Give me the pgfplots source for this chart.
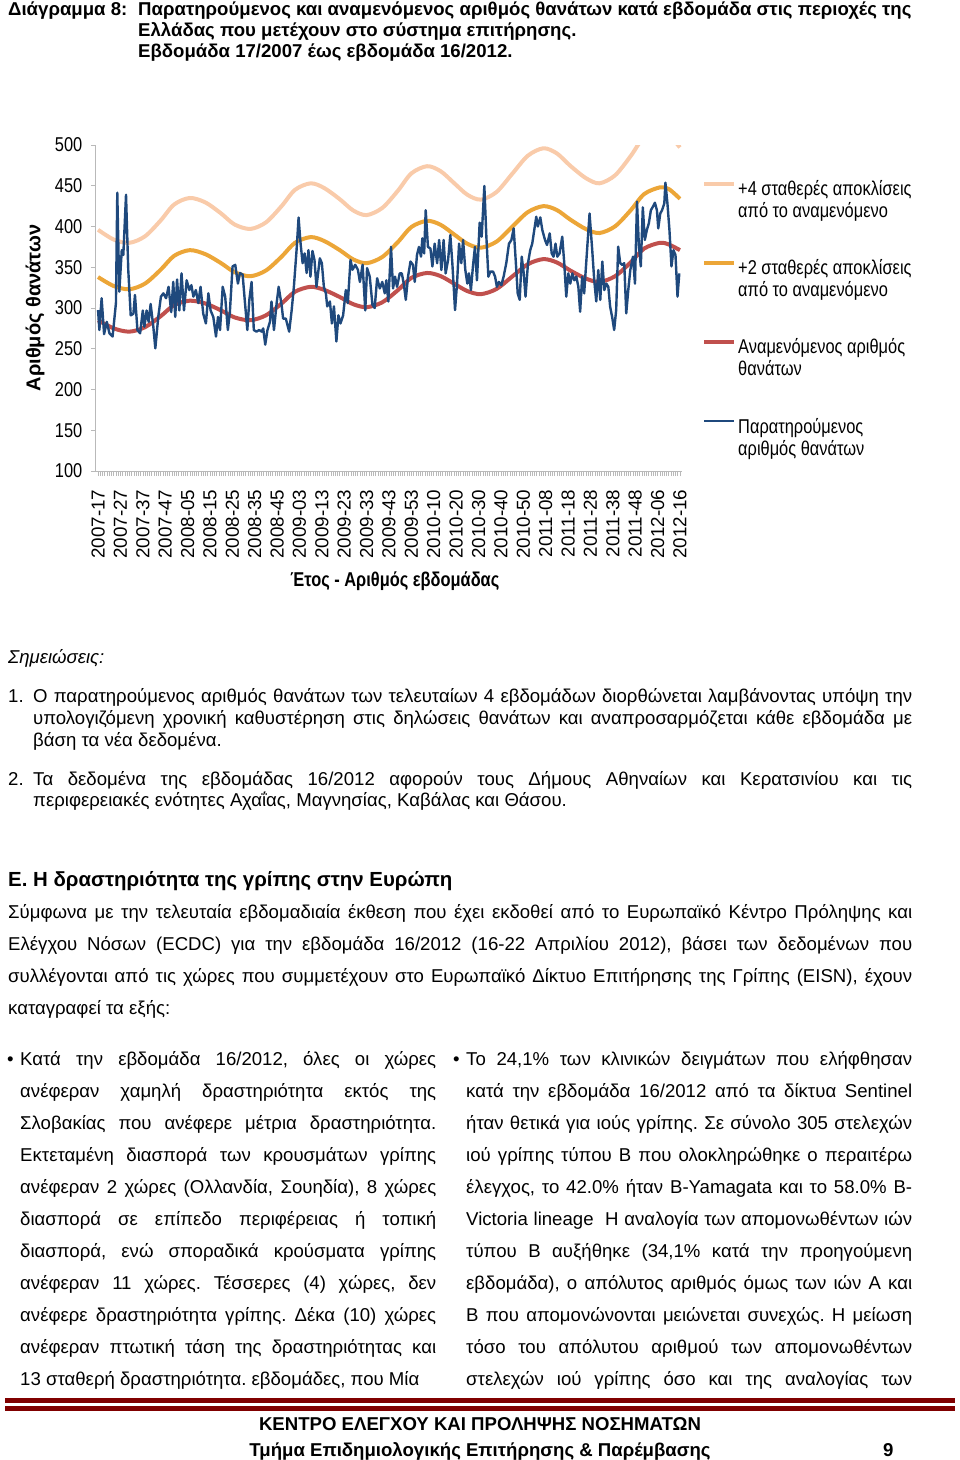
\documentclass[border=0pt]{standalone}
\usepackage{fontspec}
\setmainfont{Liberation Sans}
\newfontfamily\narrow{Liberation Sans}[FakeStretch=0.82]
\usepackage{pgfplots}
\pgfplotsset{compat=1.18}
\usepackage{pgfplotstable}
\definecolor{cblue}{RGB}{31,73,125}
\definecolor{cred}{RGB}{192,80,77}
\definecolor{corange}{RGB}{236,166,56}
\definecolor{cpeach}{RGB}{249,203,170}
\definecolor{cmaroon}{RGB}{128,0,0}
\pgfplotstableread{
x y
0 297.5
0.6 273
1.6 312
2.7 268
3.9 283
5.1 269
6.5 265
8.0 306
8.6 441.5
9.5 320
10.6 371
11.3 365
12.5 439
13.5 347
14.6 291
15.8 293
16.5 316
17.6 273
18.8 269
20.0 297
20.7 277
21.7 297
22.6 283
23.5 305
24.7 277
25.6 250.5
26.9 289
28.1 314
29.2 318
30.4 312
31.5 326
32.7 295
33.6 332
34.5 289
35.3 335
36.3 297
37.3 342.5
38.4 297
39.6 334
40.8 322
41.7 328
42.6 314
43.7 322
44.8 306
45.8 326
47.0 293
48.2 281
49.3 318
50.3 297
51.5 289
52.7 265
53.6 289
54.5 273
55.7 326
56.8 314
58.0 273
58.9 295
60.1 351
61.3 353
62.5 330
63.4 343
64.6 341
65.6 308
66.7 273
67.6 310
68.6 332
69.6 273
70.8 271
72.0 273
73.1 271
73.8 275
74.7 255
75.7 273
76.8 283
77.5 308
78.6 273
79.8 306
80.7 326
82.0 304
82.7 287
83.9 287
85.4 271
86.5 297
87.5 326
88.7 371
89.6 411
90.5 379
91.4 355
92.3 367
93.2 343
94.0 371
94.9 338.5
95.8 370
96.7 359
97.6 326
98.5 347
99.1 361
100.0 355
100.9 326
101.8 318
102.4 302
103.6 308
104.5 281
105.4 302
106.5 259
107.4 291
108.3 281
109.5 291
110.7 322
111.6 306
112.8 359
113.7 347
114.9 353
116.1 347
117.0 332
118.2 353
119.4 297
120.2 349
121.4 338.5
122.6 304
123.6 300
124.7 336.5
125.9 324
127.0 332
128.1 318
128.8 334
129.7 308
130.9 375
131.8 324
132.7 338.5
133.6 326
134.8 342.5
135.7 342.5
136.6 330
137.5 310
138.5 338.5
139.6 357
140.7 353
141.5 332
142.5 365
143.4 375
144.3 363
144.9 385.5
145.7 367
146.4 420
147.4 375
148.5 373
149.4 351
150.4 379
151.5 355
152.4 383.5
153.4 346.6
154.4 383.5
155.3 342.5
156.4 359
157.4 389.6
158.3 355
159.5 297.5
160.4 330
161.3 379
162.3 355
163.1 383.5
164.1 346.6
165.0 330
165.7 342.5
166.6 322
167.5 351
168.4 375
169.3 334
170.5 404.7
171.4 387.5
172.6 449.7
173.5 387.5
174.4 338.5
175.3 344.6
176.5 344.6
177.4 338.5
178.2 326
179.1 332
180.2 328
181.2 338.5
182.4 355
183.6 379
184.7 383.5
185.7 397.7
186.6 359
187.5 318
188.4 310
189.3 363
190.2 342.5
191.0 314
192.1 355
193.1 371
194.0 379
194.9 395.7
195.8 412
196.5 400
197.6 411.2
198.5 395.7
199.7 383.5
200.6 377.3
201.8 391.6
202.7 367
203.5 363
204.4 379
205.2 363
206.2 367
207.4 387.5
208.3 355
209.2 314
210.1 342.5
211.0 330
211.9 342.5
212.8 334
213.7 338.5
214.6 326
215.4 295.5
216.3 338.5
217.2 318
218.1 355
219.6 416
220.8 371
221.7 334
222.6 308
223.5 346.6
224.4 310
225.3 357
226.2 322
227.1 330
228.0 326
228.8 301.6
229.7 289
230.6 273
231.5 297.5
232.4 375.3
233.3 355
234.2 353
235.1 355
236.0 293.5
236.9 322
237.8 346.6
239.0 363
239.9 330
240.8 430.5
241.6 379
242.5 351
243.4 423.5
244.3 383.5
245.2 395.7
246.1 404
247.0 420
247.9 424.3
248.8 429.2
249.7 420
250.3 397.7
251.2 416
252.0 420
253.0 428.4
253.5 453.8
254.4 428.4
255.3 395.7
256.2 351
257.1 371
258.0 365
258.9 314
259.7 342.5
}\observed
\pgfplotstableread{
x red orange peach
0 285 338 396
7 275 327 384
14 271 323 380
21 276.5 330 388
28 290 347 407.5
34 303.5 364 427
41 309 371 435
48 305.5 366 429.5
55 297 355 416
61 288.5 344 402.5
68 285 339 397
75 291 346 405
82 305.5 363 425
88 320 380 445
95 326 387 453
101 322.3 382.3 447.3
108 313.5 371 433.5
114 304.7 359.7 419.7
120 301 355 414
127 307 362.6 422.8
134 322 381 444
140 337 399.4 465.2
147 343 407 474
153 339.2 402.2 468
159 330 390.5 453.5
165 320.8 378.8 439
171 317 374 433
178 323.3 381.4 442.2
185 338.5 399.5 464.5
192 353.7 417.6 486.8
199 360 425 496
205 355.9 420.2 489.7
211 346 408.5 474.5
218 336.1 396.8 459.3
224 332 392 453
231 339 400.2 462.8
238 356 420 486.5
244 373 439.8 510.2
251 380 448 520
255 378 446 513
260 371 434 497
}\expected
\newcommand{\tl}[3]{\node[anchor=base west,inner sep=0pt] at (#1,#2) {#3};}
\newcommand{\jl}[4]{\node[anchor=base west,inner sep=0pt] at (#1,#2) {\makebox[#3pt][s]{#4}};}
\begin{document}
\frenchspacing
\begin{tikzpicture}[x=1pt,y=-1pt]
\path (0,0) rectangle (960,1460);
\begin{axis}[
 at={(95.8pt,-471pt)}, anchor=south west,
 width=586.4pt, height=326pt, scale only axis,
 xmin=-1, xmax=261, ymin=100, ymax=500,
 axis lines*=left,
 axis line style={draw=gray!55, line width=0.8pt},
 ytick={100,150,...,500},
 xtick={0,10,...,260},
 xticklabels={2007-17,2007-27,2007-37,2007-47,2008-05,2008-15,2008-25,2008-35,2008-45,2009-03,2009-13,2009-23,2009-33,2009-43,2009-53,2010-10,2010-20,2010-30,2010-40,2010-50,2011-08,2011-18,2011-28,2011-38,2011-48,2012-06,2012-16},
 minor xtick={0,...,260},
 tick align=outside,
 major tick length=5pt, minor tick length=5pt,
 tick style={draw=gray!55, line width=0.6pt},
 xticklabel style={rotate=90, anchor=east, font=\fontsize{18.8}{20}\selectfont, xshift=-10pt},
 yticklabel style={font=\narrow\fontsize{20}{22}\selectfont, xshift=-5pt},
 /pgf/number format/assume math mode=true,
 xlabel={Έτος - Αριθμός εβδομάδας},
 xlabel style={font=\narrow\bfseries\fontsize{20}{22}\selectfont, at={(axis description cs:0.51,-0.337)}, anchor=center},
 ylabel={Αριθμός θανάτων},
 ylabel style={font=\bfseries\fontsize{20}{22}\selectfont, at={(axis description cs:-0.1037,0.5)}, anchor=center},
 legend style={at={(axis description cs:1.0338,0.8988)}, anchor=north west, draw=none, fill=none, inner sep=0pt, row sep=46.5pt, column sep=0pt, font=\narrow\fontsize{20}{22}\selectfont},
 legend cell align=left,
 legend image code/.code={\draw[#1] (0pt,11pt) -- (30pt,11pt);},
]
\addplot[cpeach, line width=4pt, smooth] table[x=x,y=peach]{\expected};
\addlegendentry{\begin{tabular}{@{}l@{}}+4 σταθερές αποκλίσεις\\από το αναμενόμενο\end{tabular}}
\addplot[corange, line width=4pt, smooth] table[x=x,y=orange]{\expected};
\addlegendentry{\begin{tabular}{@{}l@{}}+2 σταθερές αποκλίσεις\\από το αναμενόμενο\end{tabular}}
\addplot[cred, line width=4pt, smooth] table[x=x,y=red]{\expected};
\addlegendentry{\begin{tabular}{@{}l@{}}Αναμενόμενος αριθμός\\θανάτων\end{tabular}}
\addplot[cblue, line width=2.4pt, line join=round] table[x=x,y=y]{\observed};
\addlegendentry{\begin{tabular}{@{}l@{}}Παρατηρούμενος\\αριθμός θανάτων\end{tabular}}
\end{axis}
% title
\begin{scope}[font=\bfseries\fontsize{18.6}{21}\selectfont]
\tl{8}{15}{Διάγραμμα 8:}
\tl{138}{15}{Παρατηρούμενος και αναμενόμενος αριθμός θανάτων κατά εβδομάδα στις περιοχές της}
\tl{138}{36}{Ελλάδας που μετέχουν στο σύστημα επιτήρησης.}
\tl{138}{57}{Εβδομάδα 17/2007 έως εβδομάδα 16/2012.}
\end{scope}
% notes
\begin{scope}[font=\fontsize{18.6}{21}\selectfont]
\tl{8}{663}{\itshape Σημειώσεις:}
\tl{8}{702}{1.}
\jl{33}{702}{879}{Ο παρατηρούμενος αριθμός θανάτων των τελευταίων 4 εβδομάδων διορθώνεται λαμβάνοντας υπόψη την}
\jl{33}{724}{879}{υπολογιζόμενη χρονική καθυστέρηση στις δηλώσεις θανάτων και αναπροσαρμόζεται κάθε εβδομάδα με}
\tl{33}{746}{βάση τα νέα δεδομένα.}
\tl{8}{785}{2.}
\jl{33}{785}{879}{Τα δεδομένα της εβδομάδας 16/2012 αφορούν τους Δήμους Αθηναίων και Κερατσινίου και τις}
\tl{33}{806}{περιφερειακές ενότητες Αχαΐας, Μαγνησίας, Καβάλας και Θάσου.}
\end{scope}
\tl{8}{886}{\bfseries\fontsize{20.4}{23}\selectfont Ε. Η δραστηριότητα της γρίπης στην Ευρώπη}
\begin{scope}[font=\fontsize{18.6}{21}\selectfont]
\jl{8}{918}{904}{Σύμφωνα με την τελευταία εβδομαδιαία έκθεση που έχει εκδοθεί από το Ευρωπαϊκό Κέντρο Πρόληψης και}
\jl{8}{950}{904}{Ελέγχου Νόσων (ECDC) για την εβδομάδα 16/2012 (16-22 Απριλίου 2012), βάσει των δεδομένων που}
\jl{8}{982}{904}{συλλέγονται από τις χώρες που συμμετέχουν στο Ευρωπαϊκό Δίκτυο Επιτήρησης της Γρίπης (EISN), έχουν}
\tl{8}{1014}{καταγραφεί τα εξής:}
% left column
\tl{7}{1065}{\textbullet}
\jl{20}{1065}{416}{Κατά την εβδομάδα 16/2012, όλες οι χώρες}
\jl{20}{1097}{416}{ανέφεραν χαμηλή δραστηριότητα εκτός της}
\jl{20}{1129}{416}{Σλοβακίας που ανέφερε μέτρια δραστηριότητα.}
\jl{20}{1161}{416}{Εκτεταμένη διασπορά των κρουσμάτων γρίπης}
\jl{20}{1193}{416}{ανέφεραν 2 χώρες (Ολλανδία, Σουηδία), 8 χώρες}
\jl{20}{1225}{416}{διασπορά σε επίπεδο περιφέρειας ή τοπική}
\jl{20}{1257}{416}{διασπορά, ενώ σποραδικά κρούσματα γρίπης}
\jl{20}{1289}{416}{ανέφεραν 11 χώρες. Τέσσερες (4) χώρες, δεν}
\jl{20}{1321}{416}{ανέφερε δραστηριότητα γρίπης. Δέκα (10) χώρες}
\jl{20}{1353}{416}{ανέφεραν πτωτική τάση της δραστηριότητας και}
\tl{20}{1385}{13 σταθερή δραστηριότητα. εβδομάδες, που Μία}
% right column
\tl{453}{1065}{\textbullet}
\jl{466}{1065}{446}{Το 24,1\% των κλινικών δειγμάτων που ελήφθησαν}
\jl{466}{1097}{446}{κατά την εβδομάδα 16/2012 από τα δίκτυα Sentinel}
\jl{466}{1129}{446}{ήταν θετικά για ιούς γρίπης. Σε σύνολο 305 στελεχών}
\jl{466}{1161}{446}{ιού γρίπης τύπου Β που ολοκληρώθηκε ο περαιτέρω}
\jl{466}{1193}{446}{έλεγχος, το 42.0\% ήταν B-Yamagata και το 58.0\% B-}
\jl{466}{1225}{446}{Victoria lineage \ Η αναλογία των απομονωθέντων ιών}
\jl{466}{1257}{446}{τύπου Β αυξήθηκε (34,1\% κατά την προηγούμενη}
\jl{466}{1289}{446}{εβδομάδα), ο απόλυτος αριθμός όμως των ιών Α και}
\jl{466}{1321}{446}{Β που απομονώνονται μειώνεται συνεχώς. Η μείωση}
\jl{466}{1353}{446}{τόσο του απόλυτου αριθμού των απομονωθέντων}
\jl{466}{1385}{446}{στελεχών ιού γρίπης όσο και της αναλογίας των}
\end{scope}
% footer
\fill[cmaroon] (5,1398) rectangle (955,1403);
\fill[cmaroon] (5,1406) rectangle (955,1411);
\begin{scope}[font=\bfseries\fontsize{18.6}{21}\selectfont]
\node[anchor=base,inner sep=0pt] at (480,1430) {ΚΕΝΤΡΟ ΕΛΕΓΧΟΥ ΚΑΙ ΠΡΟΛΗΨΗΣ ΝΟΣΗΜΑΤΩΝ};
\node[anchor=base,inner sep=0pt] at (480,1456) {Τμήμα Επιδημιολογικής Επιτήρησης \& Παρέμβασης};
\tl{883}{1456}{9}
\end{scope}
\end{tikzpicture}
\end{document}
